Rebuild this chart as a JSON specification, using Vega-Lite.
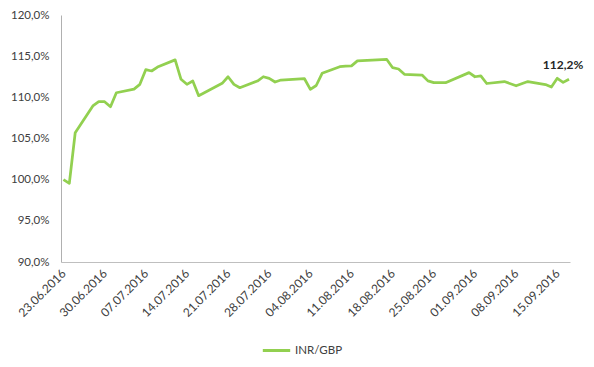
{
  "$schema": "https://vega.github.io/schema/vega-lite/v6.json",
  "width": 509,
  "height": 247,
  "autosize": {"type": "none"},
  "padding": {"left": 61, "top": 15, "right": 24, "bottom": 105},
  "background": "white",
  "config": {
    "view": {"stroke": null},
    "font": "Lato",
    "axis": {"labelFont": "Lato", "labelFontSize": 11.5, "labelColor": "#404040", "grid": false, "ticks": false, "tickSize": 0, "title": null},
    "legend": {"labelFont": "Lato", "labelFontSize": 11.5, "labelColor": "#404040"}
  },
  "data": {
    "values": [
      {"date": "2016-06-23", "value": 100.0, "series": "INR/GBP"},
      {"date": "2016-06-24", "value": 99.55, "series": "INR/GBP"},
      {"date": "2016-06-25", "value": 105.7, "series": "INR/GBP"},
      {"date": "2016-06-28", "value": 108.95, "series": "INR/GBP"},
      {"date": "2016-06-29", "value": 109.47, "series": "INR/GBP"},
      {"date": "2016-06-30", "value": 109.47, "series": "INR/GBP"},
      {"date": "2016-07-01", "value": 108.86, "series": "INR/GBP"},
      {"date": "2016-07-02", "value": 110.56, "series": "INR/GBP"},
      {"date": "2016-07-05", "value": 111.0, "series": "INR/GBP"},
      {"date": "2016-07-06", "value": 111.58, "series": "INR/GBP"},
      {"date": "2016-07-07", "value": 113.36, "series": "INR/GBP"},
      {"date": "2016-07-08", "value": 113.2, "series": "INR/GBP"},
      {"date": "2016-07-09", "value": 113.68, "series": "INR/GBP"},
      {"date": "2016-07-12", "value": 114.55, "series": "INR/GBP"},
      {"date": "2016-07-13", "value": 112.19, "series": "INR/GBP"},
      {"date": "2016-07-14", "value": 111.58, "series": "INR/GBP"},
      {"date": "2016-07-15", "value": 111.98, "series": "INR/GBP"},
      {"date": "2016-07-16", "value": 110.2, "series": "INR/GBP"},
      {"date": "2016-07-20", "value": 111.7, "series": "INR/GBP"},
      {"date": "2016-07-21", "value": 112.5, "series": "INR/GBP"},
      {"date": "2016-07-22", "value": 111.58, "series": "INR/GBP"},
      {"date": "2016-07-23", "value": 111.17, "series": "INR/GBP"},
      {"date": "2016-07-26", "value": 111.98, "series": "INR/GBP"},
      {"date": "2016-07-27", "value": 112.5, "series": "INR/GBP"},
      {"date": "2016-07-28", "value": 112.3, "series": "INR/GBP"},
      {"date": "2016-07-29", "value": 111.86, "series": "INR/GBP"},
      {"date": "2016-07-30", "value": 112.1, "series": "INR/GBP"},
      {"date": "2016-08-03", "value": 112.26, "series": "INR/GBP"},
      {"date": "2016-08-04", "value": 110.97, "series": "INR/GBP"},
      {"date": "2016-08-05", "value": 111.44, "series": "INR/GBP"},
      {"date": "2016-08-06", "value": 112.92, "series": "INR/GBP"},
      {"date": "2016-08-09", "value": 113.72, "series": "INR/GBP"},
      {"date": "2016-08-10", "value": 113.8, "series": "INR/GBP"},
      {"date": "2016-08-11", "value": 113.82, "series": "INR/GBP"},
      {"date": "2016-08-12", "value": 114.43, "series": "INR/GBP"},
      {"date": "2016-08-17", "value": 114.6, "series": "INR/GBP"},
      {"date": "2016-08-18", "value": 113.6, "series": "INR/GBP"},
      {"date": "2016-08-19", "value": 113.44, "series": "INR/GBP"},
      {"date": "2016-08-20", "value": 112.8, "series": "INR/GBP"},
      {"date": "2016-08-23", "value": 112.71, "series": "INR/GBP"},
      {"date": "2016-08-24", "value": 112.0, "series": "INR/GBP"},
      {"date": "2016-08-25", "value": 111.78, "series": "INR/GBP"},
      {"date": "2016-08-27", "value": 111.78, "series": "INR/GBP"},
      {"date": "2016-08-31", "value": 113.0, "series": "INR/GBP"},
      {"date": "2016-09-01", "value": 112.5, "series": "INR/GBP"},
      {"date": "2016-09-02", "value": 112.6, "series": "INR/GBP"},
      {"date": "2016-09-03", "value": 111.68, "series": "INR/GBP"},
      {"date": "2016-09-06", "value": 111.92, "series": "INR/GBP"},
      {"date": "2016-09-08", "value": 111.4, "series": "INR/GBP"},
      {"date": "2016-09-10", "value": 111.92, "series": "INR/GBP"},
      {"date": "2016-09-13", "value": 111.55, "series": "INR/GBP"},
      {"date": "2016-09-14", "value": 111.25, "series": "INR/GBP"},
      {"date": "2016-09-15", "value": 112.31, "series": "INR/GBP"},
      {"date": "2016-09-16", "value": 111.82, "series": "INR/GBP"},
      {"date": "2016-09-17", "value": 112.2, "series": "INR/GBP", "label": "112,2%"}
    ]
  },
  "encoding": {
    "x": {
      "field": "date",
      "type": "temporal",
      "scale": {
        "type": "utc",
        "domain": [
          {"year": 2016, "month": 6, "date": 22, "hours": 14, "utc": true},
          {"year": 2016, "month": 9, "date": 17, "hours": 4, "utc": true}
        ]
      },
      "axis": {
        "values": [
          {"year": 2016, "month": 6, "date": 23, "utc": true},
          {"year": 2016, "month": 6, "date": 30, "utc": true},
          {"year": 2016, "month": 7, "date": 7, "utc": true},
          {"year": 2016, "month": 7, "date": 14, "utc": true},
          {"year": 2016, "month": 7, "date": 21, "utc": true},
          {"year": 2016, "month": 7, "date": 28, "utc": true},
          {"year": 2016, "month": 8, "date": 4, "utc": true},
          {"year": 2016, "month": 8, "date": 11, "utc": true},
          {"year": 2016, "month": 8, "date": 18, "utc": true},
          {"year": 2016, "month": 8, "date": 25, "utc": true},
          {"year": 2016, "month": 9, "date": 1, "utc": true},
          {"year": 2016, "month": 9, "date": 8, "utc": true},
          {"year": 2016, "month": 9, "date": 15, "utc": true}
        ],
        "format": "%d.%m.%Y",
        "labelAngle": -45,
        "labelAlign": "right",
        "labelBaseline": "middle",
        "labelPadding": 9,
        "labelFontSize": 12,
        "labelOverlap": false,
        "labelFlush": false,
        "domainColor": "#BFBFBF",
        "domainWidth": 1
      }
    },
    "y": {
      "field": "value",
      "type": "quantitative",
      "scale": {"domain": [90, 120], "nice": false, "zero": false},
      "axis": {
        "values": [90, 95, 100, 105, 110, 115, 120],
        "labelExpr": "replace(format(datum.value, '.1f'), '.', ',') + '%'",
        "labelPadding": 12,
        "domainColor": "#B0B0B0",
        "domainWidth": 1
      }
    }
  },
  "layer": [
    {
      "mark": {"type": "line", "strokeWidth": 2.75, "strokeJoin": "round"},
      "encoding": {
        "color": {
          "field": "series",
          "type": "nominal",
          "scale": {"range": ["#92D050"]},
          "legend": {
            "title": null,
            "orient": "none",
            "legendX": 200,
            "legendY": 320,
            "symbolType": "stroke",
            "symbolSize": 750,
            "symbolStrokeWidth": 3,
            "labelOffset": 3
          }
        }
      }
    },
    {
      "transform": [{"filter": "isValid(datum.label)"}],
      "mark": {"type": "text", "fontWeight": "bold", "fontSize": 12, "color": "#262626", "dx": -6, "dy": -14, "font": "Lato"},
      "encoding": {"text": {"field": "label"}}
    }
  ]
}
